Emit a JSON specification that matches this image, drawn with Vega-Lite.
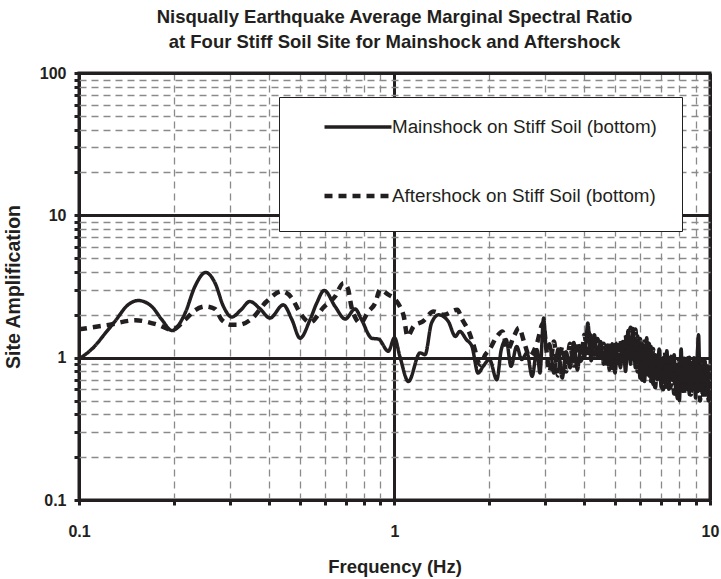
{
  "$schema": "https://vega.github.io/schema/vega-lite/v6.json",
  "width": 631,
  "height": 427,
  "autosize": {"type": "none"},
  "padding": {"left": 79, "top": 73, "right": 11, "bottom": 79},
  "background": "white",
  "title": {
    "text": ["Nisqually Earthquake Average Marginal Spectral Ratio", "at Four Stiff Soil Site for Mainshock and Aftershock"],
    "font": "Liberation Sans",
    "fontSize": 18.5,
    "fontWeight": "bold",
    "color": "#231f20",
    "anchor": "middle",
    "lineHeight": 25,
    "offset": 14
  },
  "config": {
    "view": {"stroke": "#231f20", "strokeWidth": 3},
    "axis": {
      "labelFont": "Liberation Sans",
      "labelFontWeight": "bold",
      "labelFontSize": 16,
      "labelColor": "#231f20",
      "titleFont": "Liberation Sans",
      "titleFontWeight": "bold",
      "titleFontSize": 18.5,
      "titleColor": "#231f20",
      "domain": false,
      "tickColor": "#231f20",
      "tickWidth": 3,
      "tickSize": 5,
      "labelOverlap": false,
      "labelBound": false,
      "labelFlush": false
    }
  },
  "data": {
    "values": [
      {"series": "main", "f": 0.1, "amp": 0.98},
      {"series": "main", "f": 0.112, "amp": 1.2},
      {"series": "main", "f": 0.121, "amp": 1.48},
      {"series": "main", "f": 0.13, "amp": 1.8},
      {"series": "main", "f": 0.143, "amp": 2.35},
      {"series": "main", "f": 0.154, "amp": 2.52},
      {"series": "main", "f": 0.17, "amp": 2.29},
      {"series": "main", "f": 0.183, "amp": 1.85},
      {"series": "main", "f": 0.197, "amp": 1.55},
      {"series": "main", "f": 0.217, "amp": 2.06},
      {"series": "main", "f": 0.233, "amp": 3.16},
      {"series": "main", "f": 0.252, "amp": 3.97},
      {"series": "main", "f": 0.27, "amp": 3.34},
      {"series": "main", "f": 0.287, "amp": 2.29},
      {"series": "main", "f": 0.305, "amp": 1.93},
      {"series": "main", "f": 0.325, "amp": 2.15},
      {"series": "main", "f": 0.348, "amp": 2.48},
      {"series": "main", "f": 0.375, "amp": 2.2},
      {"series": "main", "f": 0.403, "amp": 1.9},
      {"series": "main", "f": 0.444, "amp": 2.35},
      {"series": "main", "f": 0.473, "amp": 1.85},
      {"series": "main", "f": 0.502, "amp": 1.37},
      {"series": "main", "f": 0.54, "amp": 1.85},
      {"series": "main", "f": 0.567, "amp": 2.42},
      {"series": "main", "f": 0.599, "amp": 2.97},
      {"series": "main", "f": 0.648, "amp": 2.29},
      {"series": "main", "f": 0.698, "amp": 1.87},
      {"series": "main", "f": 0.75, "amp": 2.2},
      {"series": "main", "f": 0.786, "amp": 1.85},
      {"series": "main", "f": 0.847, "amp": 1.37},
      {"series": "main", "f": 0.89, "amp": 1.35},
      {"series": "main", "f": 0.956, "amp": 1.11},
      {"series": "main", "f": 1.0, "amp": 1.38},
      {"series": "main", "f": 1.04, "amp": 1.02},
      {"series": "main", "f": 1.107, "amp": 0.68},
      {"series": "main", "f": 1.205, "amp": 1.08},
      {"series": "main", "f": 1.25, "amp": 1.05},
      {"series": "main", "f": 1.31, "amp": 1.75},
      {"series": "main", "f": 1.38, "amp": 2.0},
      {"series": "main", "f": 1.48, "amp": 1.8},
      {"series": "main", "f": 1.56, "amp": 1.41},
      {"series": "main", "f": 1.61, "amp": 1.53},
      {"series": "main", "f": 1.69, "amp": 1.34},
      {"series": "main", "f": 1.76, "amp": 1.2},
      {"series": "main", "f": 1.84, "amp": 0.78},
      {"series": "main", "f": 1.91, "amp": 0.87},
      {"series": "main", "f": 2.0, "amp": 0.97},
      {"series": "main", "f": 2.11, "amp": 0.7},
      {"series": "main", "f": 2.18, "amp": 1.14},
      {"series": "main", "f": 2.26, "amp": 1.34},
      {"series": "main", "f": 2.34, "amp": 0.87},
      {"series": "main", "f": 2.44, "amp": 1.2},
      {"series": "main", "f": 2.53, "amp": 0.97},
      {"series": "main", "f": 2.63, "amp": 1.08},
      {"series": "main", "f": 2.73, "amp": 0.74},
      {"series": "main", "f": 2.83, "amp": 1.14},
      {"series": "main", "f": 2.89, "amp": 0.78},
      {"series": "main", "f": 2.97, "amp": 1.9},
      {"series": "main", "f": 3.03, "amp": 1.14},
      {"series": "main", "f": 3.1, "amp": 1.25},
      {"series": "main", "f": 3.2, "amp": 0.78},
      {"series": "main", "f": 3.3, "amp": 1.15},
      {"series": "main", "f": 3.4, "amp": 0.72},
      {"series": "main", "f": 3.5, "amp": 1.1},
      {"series": "main", "f": 3.6, "amp": 0.85},
      {"series": "main", "f": 3.7, "amp": 1.28},
      {"series": "main", "f": 3.8, "amp": 0.82},
      {"series": "main", "f": 3.9, "amp": 1.2},
      {"series": "main", "f": 4.0, "amp": 1.0},
      {"series": "main", "f": 4.1, "amp": 1.75},
      {"series": "main", "f": 4.2, "amp": 0.95},
      {"series": "main", "f": 4.3, "amp": 1.45},
      {"series": "main", "f": 4.4, "amp": 1.0},
      {"series": "main", "f": 4.5, "amp": 1.3},
      {"series": "main", "f": 4.6, "amp": 0.9},
      {"series": "main", "f": 4.7, "amp": 1.22},
      {"series": "main", "f": 4.8, "amp": 0.82},
      {"series": "main", "f": 4.9, "amp": 1.25},
      {"series": "main", "f": 5.0, "amp": 0.78},
      {"series": "main", "f": 5.1, "amp": 1.2},
      {"series": "main", "f": 5.2, "amp": 0.85},
      {"series": "main", "f": 5.3, "amp": 1.3},
      {"series": "main", "f": 5.4, "amp": 0.8},
      {"series": "main", "f": 5.5, "amp": 1.55},
      {"series": "main", "f": 5.6, "amp": 0.9},
      {"series": "main", "f": 5.7, "amp": 1.6},
      {"series": "main", "f": 5.8, "amp": 0.85},
      {"series": "main", "f": 5.9, "amp": 1.42},
      {"series": "main", "f": 6.0, "amp": 0.72},
      {"series": "main", "f": 6.1, "amp": 1.25},
      {"series": "main", "f": 6.2, "amp": 0.68},
      {"series": "main", "f": 6.3, "amp": 1.38},
      {"series": "main", "f": 6.4, "amp": 0.75},
      {"series": "main", "f": 6.5, "amp": 1.2},
      {"series": "main", "f": 6.6, "amp": 0.65},
      {"series": "main", "f": 6.7, "amp": 1.05},
      {"series": "main", "f": 6.8, "amp": 0.7},
      {"series": "main", "f": 6.9, "amp": 1.15},
      {"series": "main", "f": 7.0, "amp": 0.62},
      {"series": "main", "f": 7.1, "amp": 1.0},
      {"series": "main", "f": 7.2, "amp": 0.66},
      {"series": "main", "f": 7.3, "amp": 1.12},
      {"series": "main", "f": 7.4, "amp": 0.6},
      {"series": "main", "f": 7.5, "amp": 0.95},
      {"series": "main", "f": 7.6, "amp": 0.7},
      {"series": "main", "f": 7.7, "amp": 1.05},
      {"series": "main", "f": 7.8, "amp": 0.55},
      {"series": "main", "f": 7.9, "amp": 0.9},
      {"series": "main", "f": 8.0, "amp": 0.5},
      {"series": "main", "f": 8.1, "amp": 1.15},
      {"series": "main", "f": 8.2, "amp": 0.58},
      {"series": "main", "f": 8.3, "amp": 0.95},
      {"series": "main", "f": 8.4, "amp": 0.62},
      {"series": "main", "f": 8.5, "amp": 1.0},
      {"series": "main", "f": 8.6, "amp": 0.55},
      {"series": "main", "f": 8.7, "amp": 0.9},
      {"series": "main", "f": 8.8, "amp": 0.6},
      {"series": "main", "f": 8.9, "amp": 1.0},
      {"series": "main", "f": 9.0, "amp": 0.52},
      {"series": "main", "f": 9.1, "amp": 0.95},
      {"series": "main", "f": 9.2, "amp": 1.45},
      {"series": "main", "f": 9.3, "amp": 0.6},
      {"series": "main", "f": 9.4, "amp": 0.88},
      {"series": "main", "f": 9.5, "amp": 0.55},
      {"series": "main", "f": 9.6, "amp": 0.95},
      {"series": "main", "f": 9.7, "amp": 0.58},
      {"series": "main", "f": 9.8, "amp": 0.85},
      {"series": "main", "f": 9.9, "amp": 0.52},
      {"series": "main", "f": 10.0, "amp": 0.7},
      {"series": "after", "f": 0.1, "amp": 1.58},
      {"series": "after", "f": 0.124, "amp": 1.7},
      {"series": "after", "f": 0.151, "amp": 1.83},
      {"series": "after", "f": 0.178, "amp": 1.7},
      {"series": "after", "f": 0.197, "amp": 1.57},
      {"series": "after", "f": 0.217, "amp": 1.85},
      {"series": "after", "f": 0.233, "amp": 2.15},
      {"series": "after", "f": 0.251, "amp": 2.29},
      {"series": "after", "f": 0.27, "amp": 2.2},
      {"series": "after", "f": 0.283, "amp": 1.85},
      {"series": "after", "f": 0.305, "amp": 1.7},
      {"series": "after", "f": 0.32, "amp": 1.7},
      {"series": "after", "f": 0.352, "amp": 1.87},
      {"series": "after", "f": 0.393, "amp": 2.48},
      {"series": "after", "f": 0.439, "amp": 2.92},
      {"series": "after", "f": 0.473, "amp": 2.62},
      {"series": "after", "f": 0.502, "amp": 2.06},
      {"series": "after", "f": 0.54, "amp": 1.77},
      {"series": "after", "f": 0.595, "amp": 2.25},
      {"series": "after", "f": 0.648, "amp": 2.69},
      {"series": "after", "f": 0.689, "amp": 3.34},
      {"series": "after", "f": 0.712, "amp": 3.05},
      {"series": "after", "f": 0.73, "amp": 2.29},
      {"series": "after", "f": 0.757, "amp": 1.85},
      {"series": "after", "f": 0.78, "amp": 1.75},
      {"series": "after", "f": 0.826, "amp": 2.11},
      {"series": "after", "f": 0.869, "amp": 2.42},
      {"series": "after", "f": 0.9, "amp": 3.0},
      {"series": "after", "f": 0.956, "amp": 2.77},
      {"series": "after", "f": 1.0, "amp": 2.6},
      {"series": "after", "f": 1.04, "amp": 2.29},
      {"series": "after", "f": 1.07, "amp": 1.95},
      {"series": "after", "f": 1.1, "amp": 1.41},
      {"series": "after", "f": 1.15, "amp": 1.66},
      {"series": "after", "f": 1.23, "amp": 1.8},
      {"series": "after", "f": 1.33, "amp": 2.11},
      {"series": "after", "f": 1.43, "amp": 2.0},
      {"series": "after", "f": 1.58, "amp": 2.17},
      {"series": "after", "f": 1.64, "amp": 1.85},
      {"series": "after", "f": 1.72, "amp": 1.53},
      {"series": "after", "f": 1.78, "amp": 1.23},
      {"series": "after", "f": 1.87, "amp": 0.89},
      {"series": "after", "f": 1.94, "amp": 1.05},
      {"series": "after", "f": 2.0, "amp": 1.14},
      {"series": "after", "f": 2.11, "amp": 1.41},
      {"series": "after", "f": 2.2, "amp": 1.53},
      {"series": "after", "f": 2.28, "amp": 1.14},
      {"series": "after", "f": 2.39, "amp": 1.41},
      {"series": "after", "f": 2.48, "amp": 1.62},
      {"series": "after", "f": 2.58, "amp": 1.27},
      {"series": "after", "f": 2.68, "amp": 1.02},
      {"series": "after", "f": 2.83, "amp": 1.27},
      {"series": "after", "f": 2.96, "amp": 1.75},
      {"series": "after", "f": 3.03, "amp": 1.14},
      {"series": "after", "f": 3.1, "amp": 0.8},
      {"series": "after", "f": 3.2, "amp": 1.3},
      {"series": "after", "f": 3.3, "amp": 0.75},
      {"series": "after", "f": 3.4, "amp": 1.2},
      {"series": "after", "f": 3.5, "amp": 0.8},
      {"series": "after", "f": 3.6, "amp": 1.25},
      {"series": "after", "f": 3.7, "amp": 0.88},
      {"series": "after", "f": 3.8, "amp": 1.3},
      {"series": "after", "f": 3.9, "amp": 0.95},
      {"series": "after", "f": 4.0, "amp": 1.45},
      {"series": "after", "f": 4.1, "amp": 1.0},
      {"series": "after", "f": 4.2, "amp": 1.5},
      {"series": "after", "f": 4.3, "amp": 1.05},
      {"series": "after", "f": 4.4, "amp": 1.35},
      {"series": "after", "f": 4.5, "amp": 0.95},
      {"series": "after", "f": 4.6, "amp": 1.25},
      {"series": "after", "f": 4.7, "amp": 0.85},
      {"series": "after", "f": 4.8, "amp": 1.3},
      {"series": "after", "f": 4.9, "amp": 0.8},
      {"series": "after", "f": 5.0, "amp": 1.28},
      {"series": "after", "f": 5.1, "amp": 0.85},
      {"series": "after", "f": 5.2, "amp": 1.35},
      {"series": "after", "f": 5.3, "amp": 0.88},
      {"series": "after", "f": 5.4, "amp": 1.45},
      {"series": "after", "f": 5.5, "amp": 0.95},
      {"series": "after", "f": 5.6, "amp": 1.62},
      {"series": "after", "f": 5.7, "amp": 0.92},
      {"series": "after", "f": 5.8, "amp": 1.58},
      {"series": "after", "f": 5.9, "amp": 0.8},
      {"series": "after", "f": 6.0, "amp": 1.35},
      {"series": "after", "f": 6.1, "amp": 0.7},
      {"series": "after", "f": 6.2, "amp": 1.3},
      {"series": "after", "f": 6.3, "amp": 0.72},
      {"series": "after", "f": 6.4, "amp": 1.25},
      {"series": "after", "f": 6.5, "amp": 0.66},
      {"series": "after", "f": 6.6, "amp": 1.15},
      {"series": "after", "f": 6.7, "amp": 0.62},
      {"series": "after", "f": 6.8, "amp": 1.1},
      {"series": "after", "f": 6.9, "amp": 0.68},
      {"series": "after", "f": 7.0, "amp": 1.05},
      {"series": "after", "f": 7.1, "amp": 0.6},
      {"series": "after", "f": 7.2, "amp": 1.1},
      {"series": "after", "f": 7.3, "amp": 0.58},
      {"series": "after", "f": 7.4, "amp": 1.0},
      {"series": "after", "f": 7.5, "amp": 0.62},
      {"series": "after", "f": 7.6, "amp": 1.05},
      {"series": "after", "f": 7.7, "amp": 0.56},
      {"series": "after", "f": 7.8, "amp": 0.95},
      {"series": "after", "f": 7.9, "amp": 0.52},
      {"series": "after", "f": 8.0, "amp": 0.98},
      {"series": "after", "f": 8.1, "amp": 0.6},
      {"series": "after", "f": 8.2, "amp": 1.05},
      {"series": "after", "f": 8.3, "amp": 0.55},
      {"series": "after", "f": 8.4, "amp": 0.95},
      {"series": "after", "f": 8.5, "amp": 0.6},
      {"series": "after", "f": 8.6, "amp": 1.0},
      {"series": "after", "f": 8.7, "amp": 0.55},
      {"series": "after", "f": 8.8, "amp": 0.92},
      {"series": "after", "f": 8.9, "amp": 0.6},
      {"series": "after", "f": 9.0, "amp": 0.95},
      {"series": "after", "f": 9.1, "amp": 0.55},
      {"series": "after", "f": 9.2, "amp": 1.0},
      {"series": "after", "f": 9.3, "amp": 0.5},
      {"series": "after", "f": 9.4, "amp": 0.95},
      {"series": "after", "f": 9.5, "amp": 0.52},
      {"series": "after", "f": 9.6, "amp": 1.0},
      {"series": "after", "f": 9.7, "amp": 0.55},
      {"series": "after", "f": 9.8, "amp": 0.9},
      {"series": "after", "f": 9.9, "amp": 0.5},
      {"series": "after", "f": 10.0, "amp": 0.6}
    ]
  },
  "mark": {"type": "line", "color": "#231f20", "interpolate": "monotone", "clip": true, "strokeCap": "butt"},
  "encoding": {
    "x": {
      "field": "f",
      "type": "quantitative",
      "scale": {"type": "log", "domain": [0.1, 10], "nice": false},
      "axis": {
        "title": "Frequency (Hz)",
        "values": [0.1, 0.2, 0.3, 0.4, 0.5, 0.6, 0.7, 0.8, 0.9, 1, 2, 3, 4, 5, 6, 7, 8, 9, 10],
        "format": "~g",
        "labelExpr": "abs(log(datum.value)/LN10 - round(log(datum.value)/LN10)) < 0.001 ? datum.label : ''",
        "labelPadding": 18,
        "titlePadding": 18,
        "grid": true,
        "gridColor": {"condition": {"test": "abs(log(datum.value)/LN10 - round(log(datum.value)/LN10)) < 0.001", "value": "#231f20"}, "value": "#8a8a8a"},
        "gridWidth": {"condition": {"test": "abs(log(datum.value)/LN10 - round(log(datum.value)/LN10)) < 0.001", "value": 3}, "value": 1.3},
        "gridDash": {"condition": {"test": "abs(log(datum.value)/LN10 - round(log(datum.value)/LN10)) < 0.001", "value": []}, "value": [7, 5]}
      }
    },
    "y": {
      "field": "amp",
      "type": "quantitative",
      "scale": {"type": "log", "domain": [0.1, 100], "nice": false},
      "axis": {
        "title": "Site Amplification",
        "titleFontSize": 19.5,
        "values": [0.1, 0.2, 0.3, 0.4, 0.5, 0.6, 0.7, 0.8, 0.9, 1, 2, 3, 4, 5, 6, 7, 8, 9, 10, 20, 30, 40, 50, 60, 70, 80, 90, 100],
        "format": "~g",
        "labelExpr": "abs(log(datum.value)/LN10 - round(log(datum.value)/LN10)) < 0.001 ? datum.label : ''",
        "labelPadding": 8,
        "titlePadding": 16,
        "grid": true,
        "gridColor": {"condition": {"test": "abs(log(datum.value)/LN10 - round(log(datum.value)/LN10)) < 0.001", "value": "#231f20"}, "value": "#8a8a8a"},
        "gridWidth": {"condition": {"test": "abs(log(datum.value)/LN10 - round(log(datum.value)/LN10)) < 0.001", "value": 3}, "value": 1.3},
        "gridDash": {"condition": {"test": "abs(log(datum.value)/LN10 - round(log(datum.value)/LN10)) < 0.001", "value": []}, "value": [7, 5]}
      }
    },
    "strokeDash": {
      "field": "series",
      "type": "nominal",
      "scale": {"domain": ["main", "after"], "range": [[1, 0], [8, 6]]},
      "legend": {
        "title": null,
        "orient": "none",
        "legendX": 200,
        "legendY": 24,
        "padding": 25,
        "fillColor": "white",
        "strokeColor": "#231f20",
        "symbolType": "stroke",
        "symbolSize": 4489,
        "symbolStrokeColor": "#231f20",
        "clipHeight": 10,
        "rowPadding": 50,
        "symbolOffset": 18,
        "labelOffset": -2,
        "labelFont": "Liberation Sans",
        "labelFontSize": 18.8,
        "labelColor": "#231f20",
        "labelLimit": 420,
        "labelExpr": "datum.value == 'main' ? 'Mainshock on Stiff Soil (bottom)' : 'Aftershock on Stiff Soil (bottom)'"
      }
    },
    "strokeWidth": {
      "field": "series",
      "type": "nominal",
      "scale": {"domain": ["main", "after"], "range": [3.5, 4.5]},
      "legend": null
    }
  }
}
